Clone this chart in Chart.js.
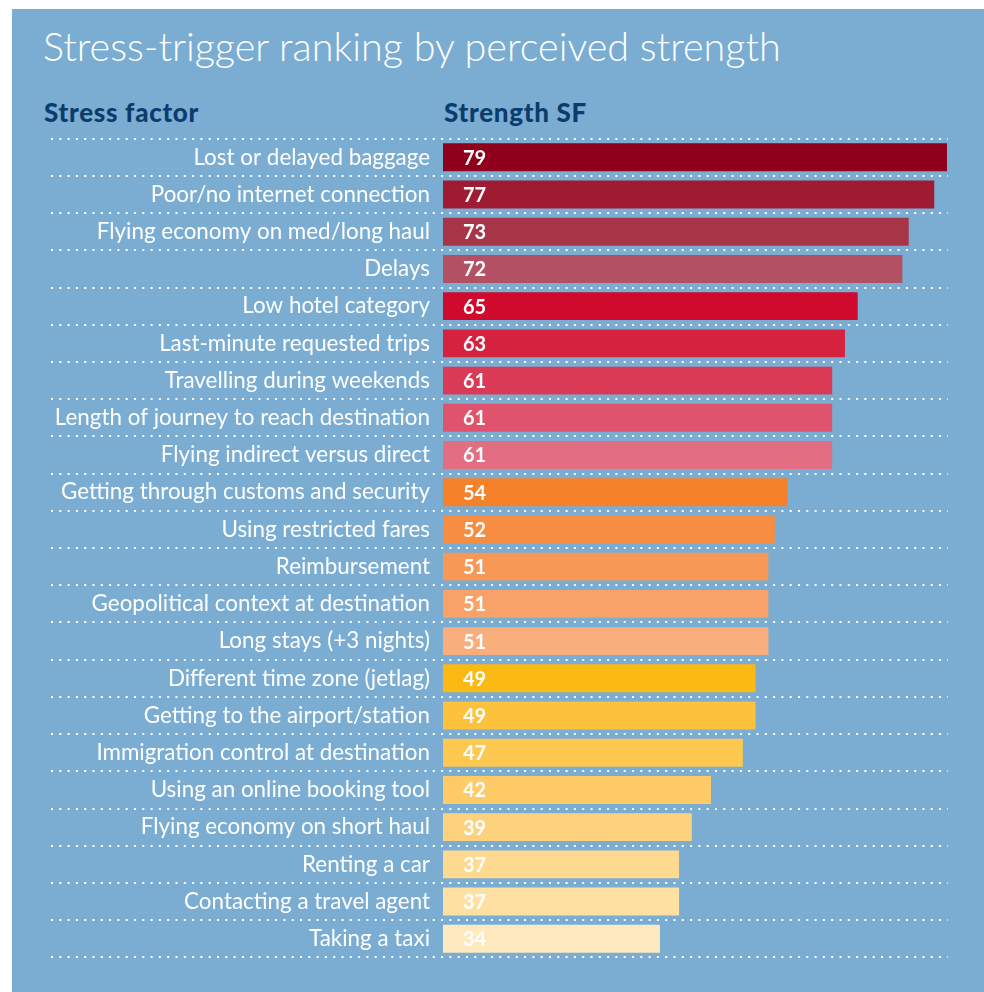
<!DOCTYPE html>
<html>
<head>
<meta charset="utf-8">
<script src="https://cdn.jsdelivr.net/npm/chart.js@4.4.1/dist/chart.umd.min.js"></script>
<style>
    body { margin: 0; background: #fff; }
    #panel { position: absolute; left: 12px; top: 9px; width: 972px; height: 983px; background: #7badd2; overflow: hidden; }
    #panel canvas { position: absolute; left: 0; top: 0; }
    .title { position: absolute; left: 31px; top: 13px; color: #fff; font: 300 39.5px Lato, sans-serif; white-space: nowrap; }
    .head { position: absolute; top: 87px; color: #0b3c6d; font: 900 26px Lato, sans-serif; letter-spacing: 0.7px; white-space: nowrap; }
</style>
</head>
<body>
<div id="panel">
    <div class="title">Stress-trigger ranking by perceived strength</div>
    <div class="head" style="left: 32px">Stress factor</div>
    <div class="head" style="left: 432px">Strength SF</div>
    <canvas id="myChart" width="972" height="983"></canvas>
</div>
<script>
// data
const factors = [
    'Lost or delayed baggage',
    'Poor/no internet connection',
    'Flying economy on med/long haul',
    'Delays',
    'Low hotel category',
    'Last-minute requested trips',
    'Travelling during weekends',
    'Length of journey to reach destination',
    'Flying indirect versus direct',
    'Getting through customs and security',
    'Using restricted fares',
    'Reimbursement',
    'Geopolitical context at destination',
    'Long stays (+3 nights)',
    'Different time zone (jetlag)',
    'Getting to the airport/station',
    'Immigration control at destination',
    'Using an online booking tool',
    'Flying economy on short haul',
    'Renting a car',
    'Contacting a travel agent',
    'Taking a taxi'
]
const strength = [79, 77, 73, 72, 65, 63, 61, 61, 61, 54, 52, 51, 51, 51, 49, 49, 47, 42, 39, 37, 37, 34]
const barColors = [
    '#8f001d', '#9e1b32', '#a83448', '#b45063',
    '#cf0a2c', '#d5223f', '#da3a55', '#df546c', '#e36d82',
    '#f5812a', '#f68d40', '#f79856', '#f8a26a', '#f9ae7d',
    '#fbb914', '#fcc23c', '#fdc84f', '#fecb67', '#fed27c', '#fed98f', '#fee0a3', '#ffe9bf'
]

// dotted separators between rows
const dottedRows = {
    id: 'dottedRows',
    beforeDatasetsDraw(chart) {
        const ctx = chart.ctx
        const y = chart.scales.y
        const half = (y.getPixelForValue(1) - y.getPixelForValue(0)) / 2
        ctx.save()
        ctx.strokeStyle = '#ffffff'
        ctx.lineWidth = 2
        ctx.setLineDash([2, 6.3])
        for (let i = 0; i <= factors.length; i++) {
            const py = Math.round(y.getPixelForValue(i) - half)
            ctx.beginPath()
            ctx.moveTo(39, py)
            ctx.lineTo(936, py)
            ctx.stroke()
        }
        ctx.restore()
    }
}

// value inside each bar
const barValues = {
    id: 'barValues',
    afterDatasetsDraw(chart) {
        const ctx = chart.ctx
        ctx.save()
        ctx.fillStyle = '#ffffff'
        ctx.font = 'bold 20px Lato, sans-serif'
        ctx.textBaseline = 'middle'
        chart.getDatasetMeta(0).data.forEach((bar, i) => {
            ctx.fillText(strength[i], bar.base + 20, bar.y + 1)
        })
        ctx.restore()
    }
}

const ctx = document.getElementById('myChart')

new Chart(ctx, {
    type: 'bar',
    data: {
        labels: factors,
        datasets: [{
            label: 'Strength SF',
            data: strength,
            backgroundColor: barColors,
            borderWidth: 0,
            barPercentage: 0.75,
            categoryPercentage: 1
        }]
    },
    options: {
        indexAxis: 'y',
        responsive: false,
        animation: false,
        layout: {
            padding: { top: 129.7, bottom: 34.6, right: 30.6, left: 0 }
        },
        scales: {
            x: {
                display: false,
                min: 0,
                max: 80
            },
            y: {
                grid: { display: false, drawTicks: false },
                border: { display: false },
                ticks: {
                    color: '#ffffff',
                    padding: 13,
                    font: { family: 'Lato', size: 22.4 }
                },
                afterFit(scale) {
                    scale.width = 431
                }
            }
        },
        plugins: {
            legend: { display: false },
            tooltip: { enabled: false }
        }
    },
    plugins: [dottedRows, barValues]
})
</script>
</body>
</html>
